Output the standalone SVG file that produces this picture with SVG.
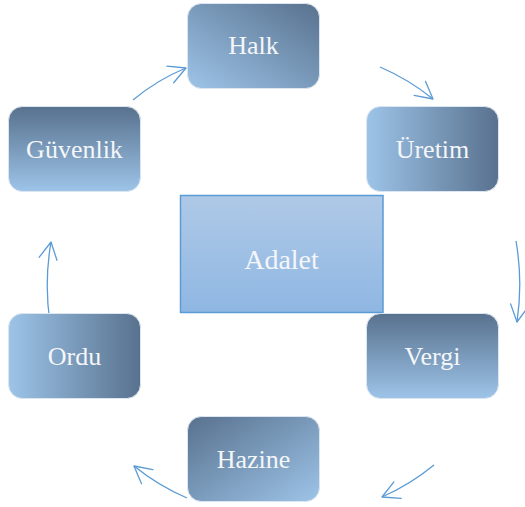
<svg xmlns="http://www.w3.org/2000/svg" width="525" height="507" viewBox="0 0 525 507">
  <defs>
    <style>
      .node { stroke: #dce6f1; stroke-width: 1; }
      .lbl { font-family: "Liberation Serif", "Times New Roman", serif; font-size: 26px; fill: #f4f6f9; text-anchor: middle; }
      .big { font-size: 28px; }
      .conn { fill: none; stroke: #5b9bd5; stroke-width: 1.3; marker-end: url(#arrow); }
    </style>
    <marker id="arrow" markerUnits="userSpaceOnUse" viewBox="-20 -12 22 24" refX="0" refY="0" markerWidth="22" markerHeight="24" orient="auto" overflow="visible">
      <path d="M-17,-9 L0,0 L-17,9" fill="none" stroke="#5b9bd5" stroke-width="1.3" stroke-linecap="round" stroke-linejoin="round"/>
    </marker>
    <linearGradient id="gBLtoTR" x1="0" y1="1" x2="1" y2="0">
      <stop offset="0" stop-color="#9dc4e8"/>
      <stop offset="1" stop-color="#58718e"/>
    </linearGradient>
    <linearGradient id="gLtoR" x1="0" y1="0" x2="1" y2="0">
      <stop offset="0" stop-color="#9dc4e8"/>
      <stop offset="1" stop-color="#58718e"/>
    </linearGradient>
    <linearGradient id="gTtoB" x1="0" y1="0" x2="0" y2="1">
      <stop offset="0" stop-color="#58718e"/>
      <stop offset="1" stop-color="#9dc4e8"/>
    </linearGradient>
    <linearGradient id="gTLtoBR" x1="0" y1="0" x2="1" y2="1">
      <stop offset="0" stop-color="#58718e"/>
      <stop offset="1" stop-color="#9dc4e8"/>
    </linearGradient>
    <linearGradient id="gCenter" x1="0" y1="0" x2="0" y2="1">
      <stop offset="0" stop-color="#afc9e7"/>
      <stop offset="1" stop-color="#8fb7e3"/>
    </linearGradient>
  </defs>

  <g id="connectors">
    <path class="conn" d="M133,100 A200,200 0 0 1 186,68"/>
    <path class="conn" d="M380,67 A225,225 0 0 1 433,99"/>
    <path class="conn" d="M516,241 A255,255 0 0 1 517,322"/>
    <path class="conn" d="M434,465 A225,225 0 0 1 382,497"/>
    <path class="conn" d="M187,498 A225,225 0 0 1 134,466"/>
    <path class="conn" d="M50,323 A255,255 0 0 1 51,242"/>
  </g>

  <g id="adalet">
    <rect x="180.5" y="195.5" width="202.5" height="117" fill="url(#gCenter)" stroke="#5b9bd5" stroke-width="1.5"/>
    <text class="lbl big" x="281.5" y="269">Adalet</text>
  </g>

  <g id="halk">
    <rect class="node" x="187.5" y="3.5" width="132" height="85" rx="14" fill="url(#gBLtoTR)"/>
    <text class="lbl" x="253.5" y="54">Halk</text>
  </g>

  <g id="uretim">
    <rect class="node" x="366.5" y="106.5" width="132" height="85" rx="14" fill="url(#gLtoR)"/>
    <text class="lbl" x="432.5" y="158">Üretim</text>
  </g>

  <g id="vergi">
    <rect class="node" x="366.5" y="313.5" width="132" height="85" rx="14" fill="url(#gTtoB)"/>
    <text class="lbl" x="432.5" y="365">Vergi</text>
  </g>

  <g id="hazine">
    <rect class="node" x="187.5" y="416.5" width="132" height="85" rx="14" fill="url(#gTLtoBR)"/>
    <text class="lbl" x="253.5" y="468">Hazine</text>
  </g>

  <g id="ordu">
    <rect class="node" x="8.5" y="313.5" width="132" height="85" rx="14" fill="url(#gLtoR)"/>
    <text class="lbl" x="74.5" y="365">Ordu</text>
  </g>

  <g id="guvenlik">
    <rect class="node" x="8.5" y="106.5" width="132" height="85" rx="14" fill="url(#gTtoB)"/>
    <text class="lbl" x="74.5" y="158">Güvenlik</text>
  </g>
</svg>
